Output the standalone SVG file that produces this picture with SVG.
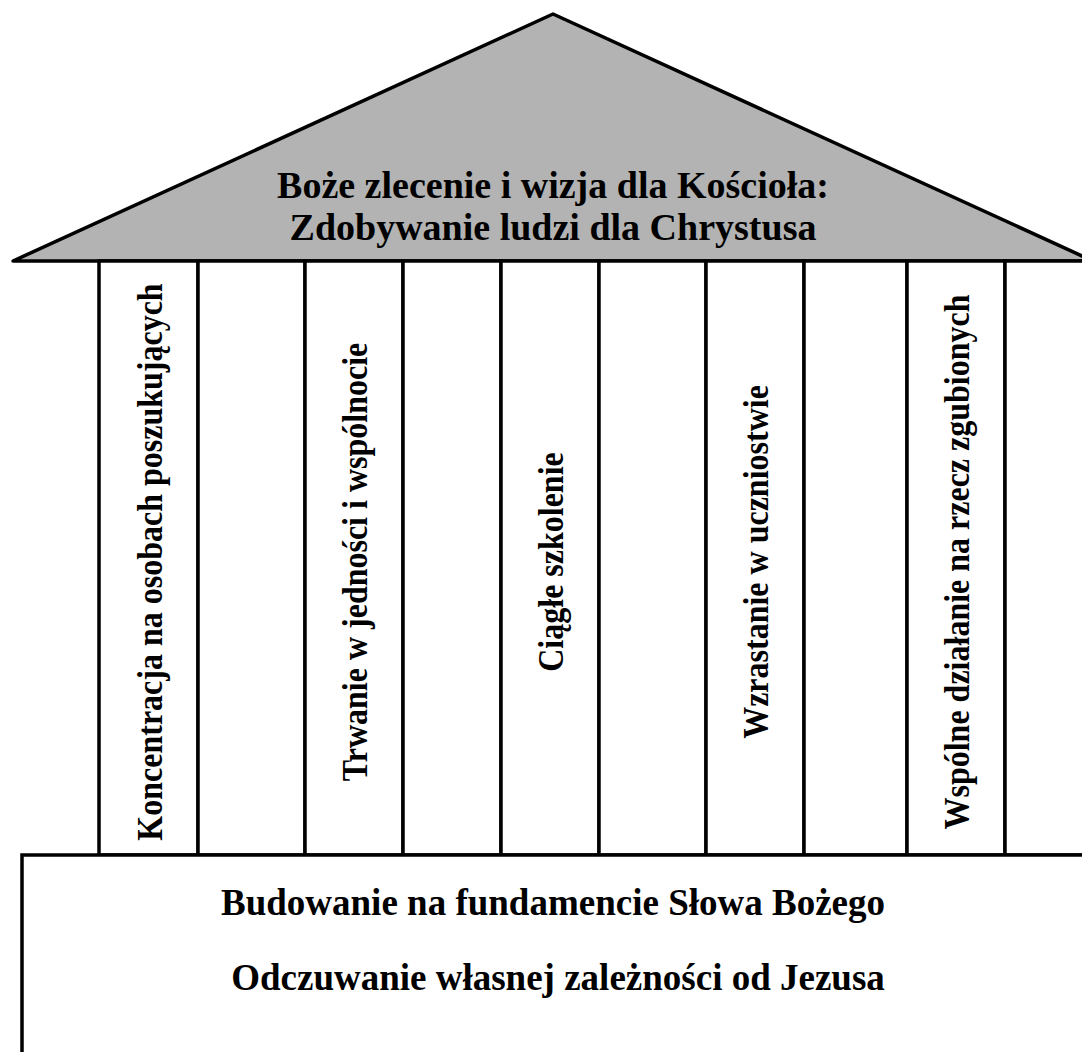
<svg xmlns="http://www.w3.org/2000/svg" width="1082" height="1052" viewBox="0 0 1082 1052">
<style>
.ln{stroke:#000;stroke-width:3.5;fill:#fff}
.t{font-family:"Liberation Serif","Times New Roman",serif;font-weight:bold;font-size:37px;fill:#000;text-anchor:middle}
.h{font-size:38px}
.v{font-family:"Liberation Serif","Times New Roman",serif;font-weight:bold;font-size:32px;fill:#000;text-anchor:middle}
</style>
<rect width="1082" height="1052" fill="#fff"/>
<g id="roof">
<polygon points="13,261 553,14 1093,261" fill="#b3b3b3" stroke="#000" stroke-width="3.5" stroke-linejoin="round"/>
<text class="t h" x="553" y="198">Boże zlecenie i wizja dla Kościoła:</text>
<text class="t h" x="553" y="240">Zdobywanie ludzi dla Chrystusa</text>
</g>
<g id="columns">
<rect class="ln" x="99" y="261" width="99" height="594"/>
<rect class="ln" x="198" y="261" width="107" height="594"/>
<rect class="ln" x="305" y="261" width="98" height="594"/>
<rect class="ln" x="403" y="261" width="98" height="594"/>
<rect class="ln" x="501" y="261" width="98" height="594"/>
<rect class="ln" x="599" y="261" width="107" height="594"/>
<rect class="ln" x="706" y="261" width="98" height="594"/>
<rect class="ln" x="804" y="261" width="103" height="594"/>
<rect class="ln" x="907" y="261" width="98" height="594"/>
<rect class="ln" x="1005" y="261" width="100" height="594"/>
</g>
<g id="pillar1"><text class="v" transform="translate(162,562) rotate(-90) scale(1,1.12)">Koncentracja na osobach poszukujących</text></g>
<g id="pillar2"><text class="v" transform="translate(367,562) rotate(-90) scale(1,1.12)">Trwanie w jedności i wspólnocie</text></g>
<g id="pillar3"><text class="v" transform="translate(563,562) rotate(-90) scale(1,1.12)">Ciągłe szkolenie</text></g>
<g id="pillar4"><text class="v" transform="translate(768,562) rotate(-90) scale(1,1.12)">Wzrastanie w uczniostwie</text></g>
<g id="pillar5"><text class="v" transform="translate(969,562) rotate(-90) scale(1,1.12)">Wspólne działanie na rzecz zgubionych</text></g>
<g id="base">
<rect class="ln" x="22" y="855" width="1100" height="300"/>
<text class="t" x="553" y="915">Budowanie na fundamencie Słowa Bożego</text>
<text class="t" x="558" y="990">Odczuwanie własnej zależności od Jezusa</text>
</g>
</svg>
